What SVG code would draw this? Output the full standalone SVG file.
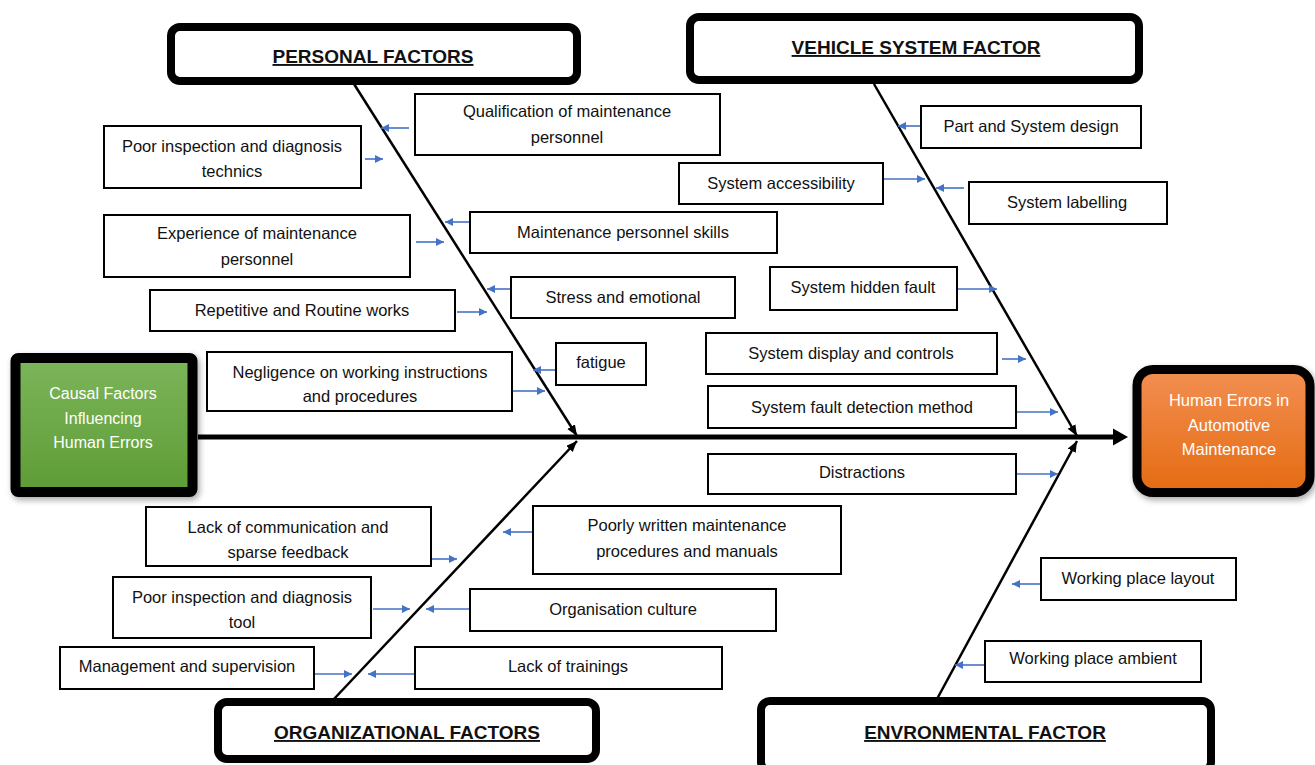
<svg xmlns="http://www.w3.org/2000/svg" width="1315" height="765" viewBox="0 0 1315 765">
<style>
  .box { fill: #fff; stroke: #000; stroke-width: 2; }
  .hdr { fill: #fff; stroke: #000; stroke-width: 8; }
  .t { font-family: "Liberation Sans", Arial, sans-serif; font-size: 16.5px; fill: #111; text-anchor: middle; }
  .h { font-family: "Liberation Sans", Arial, sans-serif; font-size: 19px; font-weight: bold; fill: #111; text-anchor: middle; text-decoration: underline; }
  .w { font-family: "Liberation Sans", Arial, sans-serif; font-size: 16px; fill: #fff; text-anchor: middle; }
  .ba { stroke: #4472c4; stroke-width: 1.6; fill: none; marker-end: url(#mb); }
  .bone { stroke: #000; stroke-width: 2.5; fill: none; marker-end: url(#mk); }
</style>
<defs>
  <marker id="mb" markerUnits="userSpaceOnUse" markerWidth="9" markerHeight="9" refX="8" refY="4" orient="auto">
    <path d="M0,0 L8,4 L0,8 z" fill="#4472c4"/>
  </marker>
  <marker id="mk" markerUnits="userSpaceOnUse" markerWidth="12" markerHeight="10" refX="11" refY="4.5" orient="auto">
    <path d="M0,0 L11,4.5 L0,9 z" fill="#000"/>
  </marker>
  <linearGradient id="gg" x1="0" y1="0" x2="0" y2="1">
    <stop offset="0" stop-color="#7cb55a"/>
    <stop offset="1" stop-color="#5e9c36"/>
  </linearGradient>
  <linearGradient id="og" x1="0" y1="0" x2="0" y2="1">
    <stop offset="0" stop-color="#f28f52"/>
    <stop offset="1" stop-color="#e56b12"/>
  </linearGradient>
  <filter id="sh" x="-10%" y="-10%" width="130%" height="130%">
    <feDropShadow dx="2" dy="3" stdDeviation="3" flood-color="#000" flood-opacity="0.35"/>
  </filter>
</defs>

<g id="connectors">
  <line x1="198" y1="437" x2="1116" y2="437" stroke="#000" stroke-width="5"/>
  <polygon points="1113,428.5 1128,437 1113,445.5" fill="#000"/>
  <line class="bone" x1="354" y1="84" x2="577" y2="436"/>
  <line class="bone" x1="874" y1="84" x2="1077" y2="436"/>
  <line class="bone" x1="334" y1="699" x2="577" y2="441"/>
  <line class="bone" x1="937" y1="699" x2="1077" y2="441"/>
  <line class="ba" x1="409" y1="128" x2="381" y2="128"/>
  <line class="ba" x1="365" y1="159" x2="383" y2="159"/>
  <line class="ba" x1="416" y1="242" x2="444" y2="242"/>
  <line class="ba" x1="471" y1="222" x2="445" y2="222"/>
  <line class="ba" x1="457" y1="312" x2="487" y2="312"/>
  <line class="ba" x1="511" y1="289" x2="487" y2="289"/>
  <line class="ba" x1="556" y1="370" x2="533" y2="370"/>
  <line class="ba" x1="513" y1="391" x2="545" y2="391"/>
  <line class="ba" x1="921" y1="126" x2="898" y2="126"/>
  <line class="ba" x1="884" y1="179" x2="925" y2="179"/>
  <line class="ba" x1="964" y1="188" x2="936" y2="188"/>
  <line class="ba" x1="958" y1="289" x2="997" y2="289"/>
  <line class="ba" x1="1002" y1="359" x2="1026" y2="359"/>
  <line class="ba" x1="1017" y1="412" x2="1058" y2="412"/>
  <line class="ba" x1="1017" y1="474" x2="1058" y2="474"/>
  <line class="ba" x1="431" y1="559" x2="457" y2="559"/>
  <line class="ba" x1="532" y1="532" x2="503" y2="532"/>
  <line class="ba" x1="373" y1="609" x2="410" y2="609"/>
  <line class="ba" x1="470" y1="609" x2="426" y2="609"/>
  <line class="ba" x1="315" y1="674" x2="352" y2="674"/>
  <line class="ba" x1="414" y1="674" x2="368" y2="674"/>
  <line class="ba" x1="1041" y1="584" x2="1012" y2="584"/>
  <line class="ba" x1="985" y1="665" x2="955" y2="665"/>
</g>

<g id="cause">
  <rect x="15.5" y="358" width="177" height="134" rx="3" fill="url(#gg)" stroke="#000" stroke-width="10" filter="url(#sh)"/>
  <text class="w" x="103" y="399">Causal Factors</text>
  <text class="w" x="103" y="424">Influencing</text>
  <text class="w" x="103" y="448">Human Errors</text>
</g>

<g id="effect">
  <rect x="1137" y="369.5" width="173" height="123" rx="16" fill="url(#og)" stroke="#000" stroke-width="9" filter="url(#sh)"/>
  <text class="w" x="1229" y="406" style="font-size:16.5px">Human Errors in</text>
  <text class="w" x="1229" y="431" style="font-size:16.5px">Automotive</text>
  <text class="w" x="1229" y="455" style="font-size:16.5px">Maintenance</text>
</g>

<g id="personal-factors">
  <rect class="hdr" x="171" y="27" width="406" height="54" rx="9"/>
  <text class="h" x="373" y="63">PERSONAL FACTORS</text>
</g>
<g id="vehicle-system-factor">
  <rect class="hdr" x="690" y="17" width="449" height="63" rx="9"/>
  <text class="h" x="916" y="54">VEHICLE SYSTEM FACTOR</text>
</g>
<g id="organizational-factors">
  <rect class="hdr" x="218" y="702" width="378" height="57" rx="9"/>
  <text class="h" x="407" y="739">ORGANIZATIONAL FACTORS</text>
</g>
<g id="environmental-factor">
  <rect class="hdr" x="761" y="701" width="450" height="70" rx="9"/>
  <text class="h" x="985" y="739">ENVRONMENTAL FACTOR</text>
</g>

<g id="qualification">
  <rect class="box" x="415" y="94" width="305" height="61"/>
  <text class="t" x="567" y="117">Qualification of maintenance</text>
  <text class="t" x="567" y="143">personnel</text>
</g>
<g id="poor-inspection-technics">
  <rect class="box" x="104" y="126" width="257" height="62"/>
  <text class="t" x="232" y="152">Poor inspection and diagnosis</text>
  <text class="t" x="232" y="177">technics</text>
</g>
<g id="experience">
  <rect class="box" x="104" y="215" width="306" height="62"/>
  <text class="t" x="257" y="239">Experience of maintenance</text>
  <text class="t" x="257" y="265">personnel</text>
</g>
<g id="skills">
  <rect class="box" x="470" y="212" width="307" height="41"/>
  <text class="t" x="623" y="238">Maintenance personnel skills</text>
</g>
<g id="repetitive">
  <rect class="box" x="150" y="290" width="305" height="41"/>
  <text class="t" x="302" y="316">Repetitive and Routine works</text>
</g>
<g id="stress">
  <rect class="box" x="511" y="277" width="224" height="41"/>
  <text class="t" x="623" y="303">Stress and emotional</text>
</g>
<g id="fatigue">
  <rect class="box" x="556" y="343" width="90" height="42"/>
  <text class="t" x="601" y="368">fatigue</text>
</g>
<g id="negligence">
  <rect class="box" x="207" y="352" width="305" height="59"/>
  <text class="t" x="360" y="378">Negligence on working instructions</text>
  <text class="t" x="360" y="402">and procedures</text>
</g>

<g id="part-design">
  <rect class="box" x="921" y="106" width="220" height="42"/>
  <text class="t" x="1031" y="132">Part and System design</text>
</g>
<g id="accessibility">
  <rect class="box" x="679" y="163" width="204" height="41"/>
  <text class="t" x="781" y="189">System accessibility</text>
</g>
<g id="labelling">
  <rect class="box" x="969" y="182" width="198" height="42"/>
  <text class="t" x="1067" y="208">System labelling</text>
</g>
<g id="hidden-fault">
  <rect class="box" x="770" y="267" width="187" height="43"/>
  <text class="t" x="863" y="293">System hidden fault</text>
</g>
<g id="display-controls">
  <rect class="box" x="706" y="333" width="291" height="41"/>
  <text class="t" x="851" y="359">System display and controls</text>
</g>
<g id="fault-detection">
  <rect class="box" x="708" y="386" width="308" height="42"/>
  <text class="t" x="862" y="413">System fault detection method</text>
</g>
<g id="distractions">
  <rect class="box" x="708" y="454" width="308" height="40"/>
  <text class="t" x="862" y="478">Distractions</text>
</g>

<g id="communication">
  <rect class="box" x="146" y="507" width="285" height="59"/>
  <text class="t" x="288" y="533">Lack of communication and</text>
  <text class="t" x="288" y="558">sparse feedback</text>
</g>
<g id="poorly-written">
  <rect class="box" x="533" y="506" width="308" height="68"/>
  <text class="t" x="687" y="531">Poorly written maintenance</text>
  <text class="t" x="687" y="557">procedures and manuals</text>
</g>
<g id="poor-inspection-tool">
  <rect class="box" x="113" y="577" width="258" height="61"/>
  <text class="t" x="242" y="603">Poor inspection and diagnosis</text>
  <text class="t" x="242" y="628">tool</text>
</g>
<g id="organisation-culture">
  <rect class="box" x="470" y="589" width="306" height="42"/>
  <text class="t" x="623" y="615">Organisation culture</text>
</g>
<g id="management">
  <rect class="box" x="60" y="647" width="254" height="42"/>
  <text class="t" x="187" y="672">Management and supervision</text>
</g>
<g id="trainings">
  <rect class="box" x="415" y="647" width="307" height="42"/>
  <text class="t" x="568" y="672">Lack of trainings</text>
</g>

<g id="layout">
  <rect class="box" x="1041" y="558" width="195" height="42"/>
  <text class="t" x="1138" y="584">Working place layout</text>
</g>
<g id="ambient">
  <rect class="box" x="985" y="641" width="216" height="41"/>
  <text class="t" x="1093" y="664">Working place ambient</text>
</g>
</svg>
